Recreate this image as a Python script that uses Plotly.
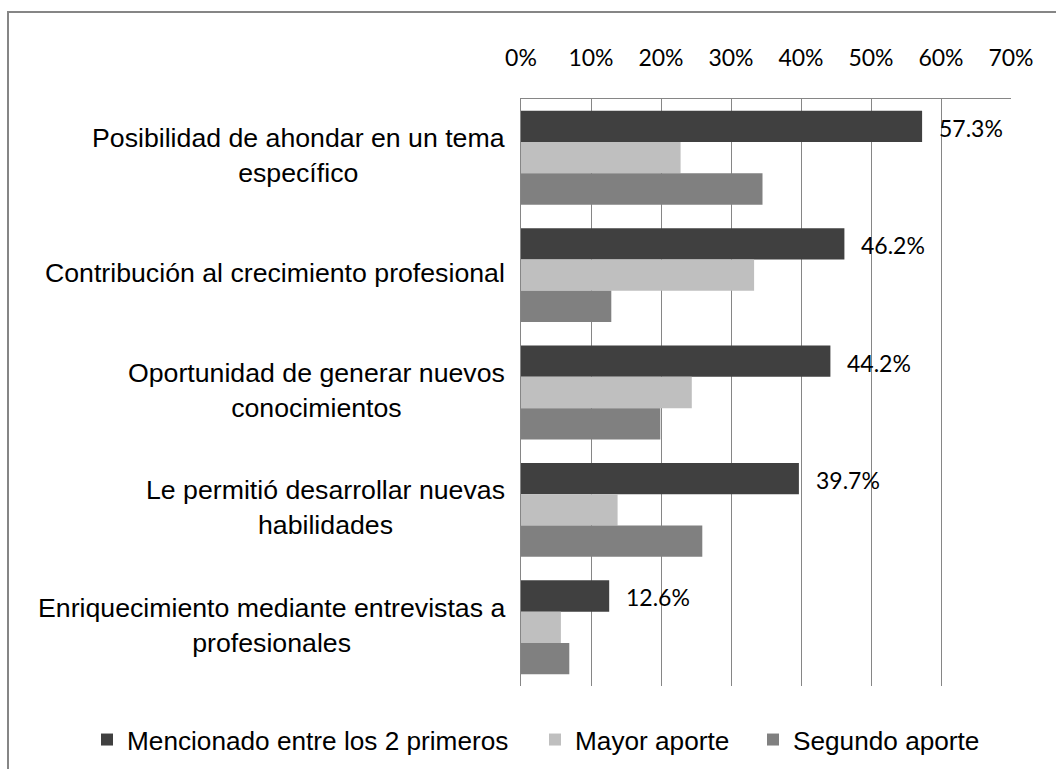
import plotly.graph_objects as go

categories = [
    "Posibilidad de ahondar en un tema<br>específico",
    "Contribución al crecimiento profesional",
    "Oportunidad de generar nuevos<br>conocimientos",
    "Le permitió desarrollar nuevas<br>habilidades",
    "Enriquecimiento mediante entrevistas a<br>profesionales",
]
mencionado = [57.3, 46.2, 44.2, 39.7, 12.6]
mayor = [22.8, 33.3, 24.4, 13.8, 5.7]
segundo = [34.5, 12.9, 19.9, 25.9, 6.9]

series = [
    ("Mencionado entre los 2 primeros", mencionado, "#404040"),
    ("Mayor aporte", mayor, "#BFBFBF"),
    ("Segundo aporte", segundo, "#808080"),
]

GRID = "#868686"
CAL = "Lato, 'Open Sans', sans-serif"
ARIAL = "'Liberation Sans', Arial, sans-serif"

# plot area in pixels: x 521..1011, y 99..686
PL, PW, PT, PH = 521, 490, 99, 587

fig = go.Figure()
legend_ids = ["legend", "legend2", "legend3"]
for (name, vals, color), lg in zip(series, legend_ids):
    fig.add_trace(go.Bar(
        y=categories, x=vals, name=name, orientation="h",
        marker=dict(color=color, line=dict(width=0)),
        hoverinfo="x+name", legend=lg,
    ))

# category labels (centered multi-line, like the original)
for cat in categories:
    fig.add_annotation(
        x=0, xref="paper", y=cat, yref="y", text=cat,
        xanchor="right", xshift=-14, yshift=2, align="center", showarrow=False,
        font=dict(family=ARIAL, size=26.7, color="#000000"),
    )

# data labels on the first series only
for cat, v in zip(categories, mencionado):
    fig.add_annotation(
        x=v, y=cat, text=f"{v:.1f}%", xanchor="left", xshift=15, yshift=30,
        showarrow=False, font=dict(family=CAL, size=23, color="#000000"),
    )

# outer chart frame (only top and left edges visible)
fig.add_shape(
    type="rect", xref="paper", yref="paper",
    x0=(8 - PL) / PW, x1=1.2, y0=-0.3, y1=(PT + PH - 12) / PH,
    line=dict(color=GRID, width=2), fillcolor="rgba(0,0,0,0)", layer="below",
)

legend_left = [87, 535, 753]
leg_common = dict(
    orientation="h", xanchor="left", yanchor="middle",
    y=(PT + PH - 740) / PH,
    font=dict(family=ARIAL, size=26.2, color="#000000"),
    bgcolor="rgba(0,0,0,0)", borderwidth=0,
)

fig.update_layout(
    width=1056, height=769,
    margin=dict(l=PL, r=1056 - PL - PW, t=PT, b=769 - PT - PH, autoexpand=False),
    paper_bgcolor="white", plot_bgcolor="white",
    barmode="group", bargap=0.2, bargroupgap=0,
    showlegend=True,
    legend=dict(x=(legend_left[0] - PL) / PW, **leg_common),
    legend2=dict(x=(legend_left[1] - PL) / PW, **leg_common),
    legend3=dict(x=(legend_left[2] - PL) / PW, **leg_common),
    xaxis=dict(
        side="top", range=[0, 70], dtick=10, ticksuffix="%",
        showgrid=True, gridcolor=GRID, gridwidth=1,
        showline=True, linecolor=GRID, linewidth=1, zeroline=False,
        ticks="", ticklabelstandoff=23,
        tickfont=dict(family=CAL, size=23, color="#000000"),
        fixedrange=True,
    ),
    yaxis=dict(
        autorange="reversed", showticklabels=False,
        showline=True, linecolor=GRID, linewidth=1,
        showgrid=False, ticks="", fixedrange=True,
    ),
)

fig.write_html(
    "out.html",
    config={"displayModeBar": False},
    post_script="document.body.style.margin='0';document.body.style.overflow='hidden';",
)
